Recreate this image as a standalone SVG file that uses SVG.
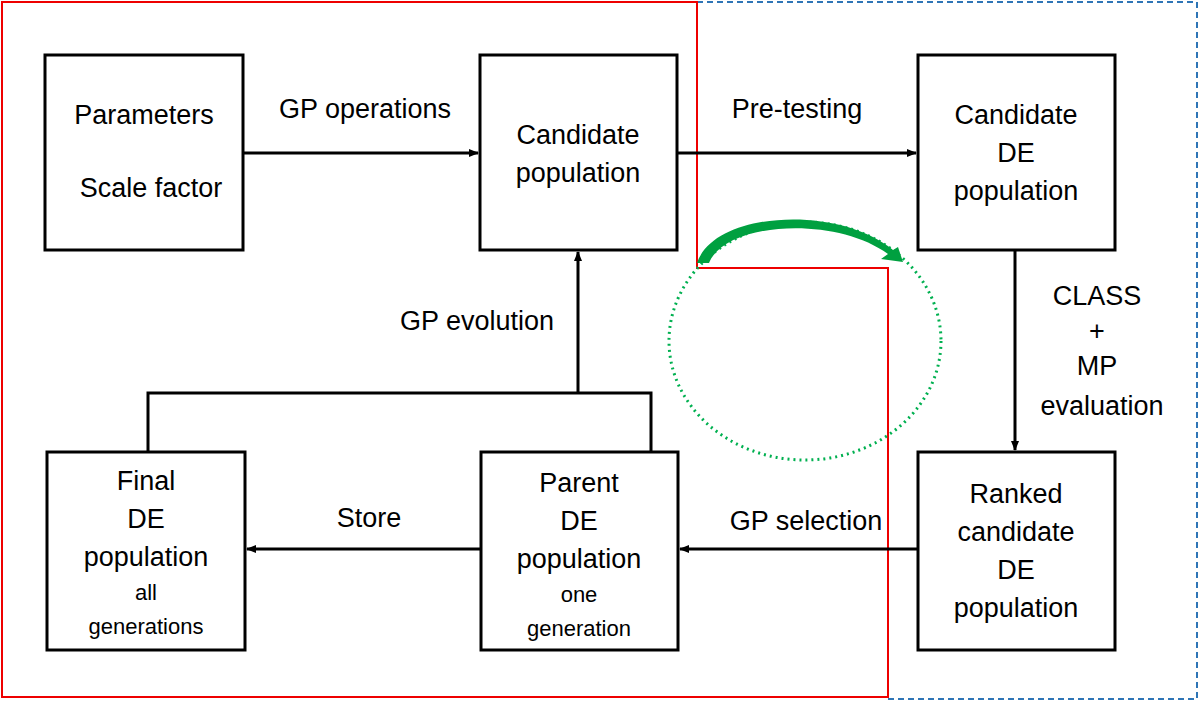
<svg xmlns="http://www.w3.org/2000/svg" width="1200" height="701" viewBox="0 0 1200 701">
<defs>
<style>
.b{fill:#fff;stroke:#000;stroke-width:3}
text{font-family:"Liberation Sans",Arial,sans-serif;font-size:27px;fill:#000;text-anchor:middle}
.s{font-size:22px}
.c{fill:none;stroke:#000;stroke-width:3}
</style>
<marker id="a" markerWidth="10" markerHeight="8" refX="9" refY="4" orient="auto" markerUnits="userSpaceOnUse"><path d="M0,0L10,4L0,8z" fill="#000"/></marker>
</defs>
<rect width="1200" height="701" fill="#fff"/>
<path d="M697,2H1197V699H888" fill="none" stroke="#2e75b6" stroke-width="2" stroke-dasharray="6,4"/>
<path d="M2,2H697V268H888V697H2Z" fill="none" stroke="#e00" stroke-width="2"/>
<ellipse cx="805" cy="341" rx="136" ry="119" fill="none" stroke="#00b050" stroke-width="3" stroke-dasharray="2,4"/>
<g id="connectors">
<line class="c" x1="243" y1="153" x2="478" y2="153" marker-end="url(#a)"/>
<line class="c" x1="677" y1="153" x2="916" y2="153" marker-end="url(#a)"/>
<line class="c" x1="1015" y1="250" x2="1015" y2="450" marker-end="url(#a)"/>
<line class="c" x1="918" y1="549" x2="680" y2="549" marker-end="url(#a)"/>
<line class="c" x1="481" y1="549" x2="247" y2="549" marker-end="url(#a)"/>
<path class="c" d="M148,452V393H651V452M578,393V252" marker-end="url(#a)"/>
<path d="M697,263C715,210 840,205 893,250L898,247L903,262L881,259L888,254C835,215 725,222 709,263Z" fill="#00a040"/>
<text x="365" y="118">GP operations</text>
<text x="797" y="118">Pre-testing</text>
<text x="1097" y="305">CLASS</text>
<text x="1097" y="340">+</text>
<text x="1097" y="375">MP</text>
<text x="1102" y="415">evaluation</text>
<text x="806" y="530">GP selection</text>
<text x="369" y="527">Store</text>
<text x="477" y="330">GP evolution</text>
</g>
<g id="n1"><rect class="b" x="45" y="55" width="198" height="195"/><text x="144" y="124">Parameters</text><text x="151" y="197">Scale factor</text></g>
<g id="n2"><rect class="b" x="480" y="55" width="197" height="195"/><text x="578" y="144">Candidate</text><text x="578" y="182">population</text></g>
<g id="n3"><rect class="b" x="918" y="55" width="197" height="195"/><text x="1016" y="124">Candidate</text><text x="1016" y="162">DE</text><text x="1016" y="200">population</text></g>
<g id="n4"><rect class="b" x="918" y="452" width="197" height="198"/><text x="1016" y="503">Ranked</text><text x="1016" y="541">candidate</text><text x="1016" y="579">DE</text><text x="1016" y="617">population</text></g>
<g id="n5"><rect class="b" x="481" y="452" width="197" height="198"/><text x="579" y="492">Parent</text><text x="579" y="530">DE</text><text x="579" y="568">population</text><text class="s" x="579" y="602">one</text><text class="s" x="579" y="636">generation</text></g>
<g id="n6"><rect class="b" x="47" y="452" width="198" height="198"/><text x="146" y="490">Final</text><text x="146" y="528">DE</text><text x="146" y="566">population</text><text class="s" x="146" y="600">all</text><text class="s" x="146" y="634">generations</text></g>
</svg>
